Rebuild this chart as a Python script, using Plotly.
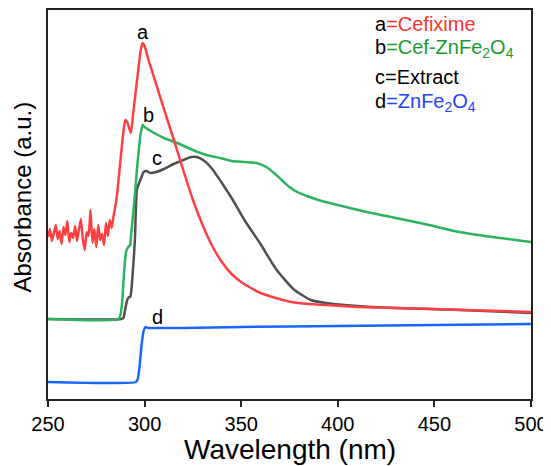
import plotly.graph_objects as go

# Wavelength (nm) and absorbance (a.u., stacked/offset as in the figure)
wl_a = [250, 251, 252, 253, 254, 255, 256, 257, 258, 259, 260, 261, 262, 263, 264, 265,
        266, 267, 268, 269, 270, 271, 272, 273, 274, 275, 276, 277, 278, 279, 280, 281,
        282, 283, 284, 285, 286, 287.5, 289, 290, 291, 292, 293, 294, 295.5, 297, 298,
        299, 300, 302, 305, 310, 315, 320, 325, 330, 335, 340, 345, 350, 355, 360, 368,
        376, 385, 394, 410, 430, 450, 475, 500]
abs_a = [1.62, 1.70, 1.58, 1.66, 1.74, 1.60, 1.68, 1.55, 1.72, 1.64, 1.78, 1.57, 1.66, 1.61,
         1.73, 1.58, 1.69, 1.80, 1.60, 1.49, 1.67, 1.63, 1.89, 1.56, 1.70, 1.52, 1.74, 1.59,
         1.65, 1.54, 1.76, 1.63, 1.79, 1.71, 1.84, 1.94, 2.09, 2.39, 2.67, 2.79, 2.77, 2.71,
         2.66, 2.84, 3.09, 3.34, 3.49, 3.56, 3.53, 3.39, 3.21, 2.90, 2.60, 2.29, 1.99, 1.74,
         1.53, 1.37, 1.25, 1.17, 1.11, 1.06, 1.01, 0.97, 0.95, 0.94, 0.92, 0.91, 0.90, 0.885,
         0.87]

wl_b = [250, 286.5, 287.5, 288.5, 289.5, 290.5, 291.5, 292.5, 293, 294, 295, 296, 297, 298,
        299, 300, 305, 310, 317, 325, 332, 339, 345, 352, 358, 363, 367, 371, 375, 379, 384,
        390, 400, 415, 430, 445, 463, 480, 500]
abs_b = [0.80, 0.80, 0.84, 1.00, 1.30, 1.48, 1.52, 1.54, 1.64, 1.84, 2.04, 2.29, 2.49, 2.66,
         2.74, 2.72, 2.66, 2.61, 2.56, 2.49, 2.44, 2.41, 2.38, 2.37, 2.36, 2.32, 2.26, 2.19,
         2.12, 2.07, 2.03, 1.99, 1.94, 1.87, 1.81, 1.75, 1.67, 1.62, 1.57]

wl_c = [250, 288, 289, 290, 291, 292, 292.5, 293, 294, 295, 296, 297, 298, 299.5, 301, 303,
        306, 310, 315, 320, 324, 327, 331, 335, 340, 346, 352, 360, 368, 377, 386, 394, 410,
        430, 463, 500]
abs_c = [0.80, 0.80, 0.81, 0.90, 0.99, 1.02, 1.02, 1.06, 1.30, 1.60, 2.09, 2.15, 2.20, 2.27,
         2.28, 2.26, 2.27, 2.30, 2.35, 2.39, 2.42, 2.42, 2.38, 2.30, 2.16, 1.98, 1.78, 1.55,
         1.30, 1.10, 0.99, 0.96, 0.93, 0.91, 0.89, 0.86]

wl_d = [250, 295.5, 296.5, 297.5, 298.5, 299.5, 300.5, 302, 305, 310, 320, 350, 400, 450, 500]
abs_d = [0.17, 0.17, 0.20, 0.35, 0.55, 0.68, 0.72, 0.71, 0.71, 0.71, 0.71, 0.72, 0.73, 0.74,
         0.75]

x_ticks = [250, 300, 350, 400, 450, 500]

FONT = "Arial, Liberation Sans, sans-serif"
LW = 2.5

fig = go.Figure()
fig.add_trace(go.Scatter(x=wl_c, y=abs_c, mode="lines",
                         line=dict(color="#505050", width=LW, shape="spline", smoothing=0.6)))
fig.add_trace(go.Scatter(x=wl_b, y=abs_b, mode="lines",
                         line=dict(color="#2db35d", width=LW, shape="spline", smoothing=0.6)))
fig.add_trace(go.Scatter(x=wl_a, y=abs_a, mode="lines",
                         line=dict(color="#ff4040", width=LW, shape="spline", smoothing=0.4)))
fig.add_trace(go.Scatter(x=wl_d, y=abs_d, mode="lines",
                         line=dict(color="#1a66ff", width=LW, shape="spline", smoothing=0.5)))

# curve labels
curve_labels = [("a", 299.2, 3.67), ("b", 301.8, 2.84), ("c", 306.4, 2.41), ("d", 306.9, 0.82)]
for t, x, y in curve_labels:
    fig.add_annotation(x=x, y=y, text=t, showarrow=False, xanchor="center", yanchor="middle",
                       font=dict(family=FONT, size=20, color="black"))

# legend text
legend_rows = [
    ("a<span style='color:#ff3030'>=Cefixime</span>", 3.75),
    ("b<span style='color:#1a9a2e'>=Cef-ZnFe<sub>2</sub>O<sub>4</sub></span>", 3.51),
    ("c=Extract", 3.22),
    ("d<span style='color:#2244ff'>=ZnFe<sub>2</sub>O<sub>4</sub></span>", 2.97),
]
for t, y in legend_rows:
    fig.add_annotation(x=418.2, y=y, text=t, showarrow=False, xanchor="left", yanchor="middle",
                       font=dict(family=FONT, size=20, color="black"))

# axis titles
fig.add_annotation(xref="paper", yref="paper", x=0.501, y=-0.13, text="Wavelength (nm)",
                   showarrow=False, xanchor="center", yanchor="middle",
                   font=dict(family=FONT, size=28, color="black"))
fig.add_annotation(xref="paper", yref="paper", x=-0.052, y=0.52, text="Absorbance (a.u.)",
                   textangle=-90, showarrow=False, xanchor="center", yanchor="middle",
                   font=dict(family=FONT, size=24, color="black"))

# page body adds an 8px margin, so the figure is 8px smaller and margins shifted
fig.update_layout(
    width=543, height=458,
    margin=dict(l=40, r=20, t=2, b=67),
    paper_bgcolor="white", plot_bgcolor="white",
    showlegend=False,
    font=dict(family=FONT, color="black"),
)
fig.update_xaxes(
    range=[250, 500], tickvals=x_ticks, ticktext=[str(v) for v in x_ticks],
    showgrid=False, zeroline=False, automargin=False,
    showline=True, linecolor="#222222", linewidth=2, mirror=True,
    ticks="outside", ticklen=6, tickwidth=2, tickcolor="#222222",
    tickfont=dict(family=FONT, size=20, color="black"),
)
fig.update_yaxes(
    range=[0, 3.89], showticklabels=False, ticks="",
    showgrid=False, zeroline=False, automargin=False,
    showline=True, linecolor="#222222", linewidth=2, mirror=True,
)

fig.write_html("out.html")
